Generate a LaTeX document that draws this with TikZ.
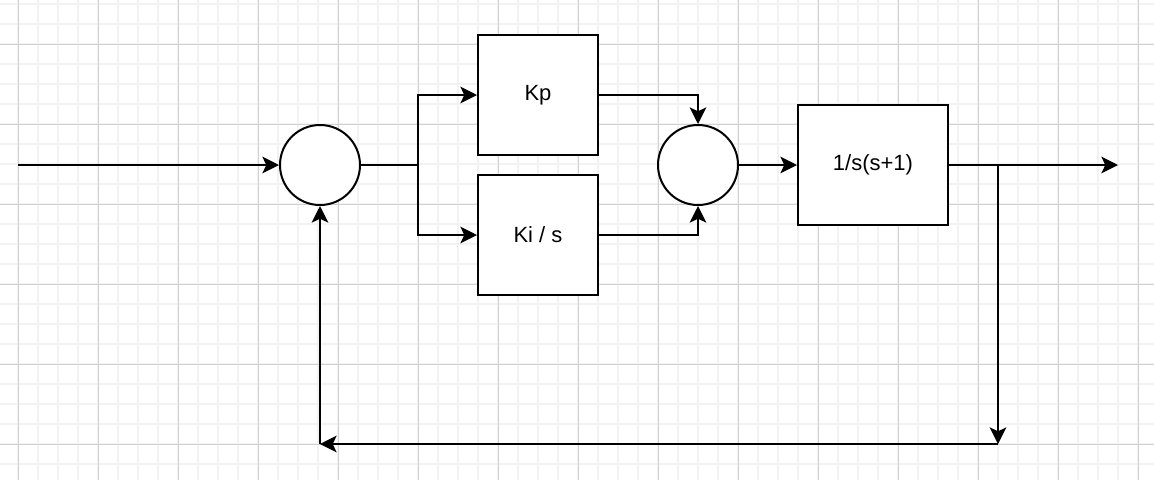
\documentclass[tikz,border=0pt]{standalone}
\usepackage{fontspec}
\setmainfont{Liberation Sans}
\usetikzlibrary{arrows.meta, positioning, calc}

\begin{document}
\begin{tikzpicture}[
    x=0.75pt, y=-0.75pt,
    >={Stealth[length=12.5pt, width=12.5pt, inset=3pt]},
    font=\fontsize{16.5}{19}\selectfont, % drawio-like label size
    every node/.style={align=center},
    block/.style={draw, line width=1.5pt, fill=white, minimum width=90pt, minimum height=90pt},
    sumcirc/.style={draw, circle, line width=1.5pt, fill=white, minimum size=60pt, inner sep=0pt},
    flow/.style={->, line width=1.5pt},
    wire/.style={line width=1.5pt},
    gridminor/.style={line width=1.3pt, color=black!5},
    gridmajor/.style={line width=0.75pt, color=black!18}
]

% =========================================================
% background grid
% =========================================================
\useasboundingbox (0,0) rectangle (1154,480);
\fill[white] (0,0) rectangle (1154,480);
\foreach \x in {18,38,...,1138} \draw[gridminor] (\x,0) -- (\x,480);
\foreach \y in {4,24,...,464} \draw[gridminor] (0,\y) -- (1154,\y);
\foreach \x in {18,98,...,1138} \draw[gridmajor] (\x,0) -- (\x,480);
\foreach \y in {44,124,...,444} \draw[gridmajor] (0,\y) -- (1154,\y);

% =========================================================
% blocks
% =========================================================
\node[sumcirc] (sum1)  at (320,165) {};
\node[block]   (kp)    at (538,95)  {Kp};
\node[block]   (ki)    at (538,235) {Ki / s};
\node[sumcirc] (sum2)  at (698,165) {};
\node[block, minimum width=112.5pt] (plant) at (873,165) {1/s(s+1)};

% branch and end points
\coordinate (in)    at (18,165);
\coordinate (out)   at (1118,165);
\coordinate (split) at (418,165);
\coordinate (tap)   at (998,165);
\coordinate (fbR)   at (998,444);
\coordinate (fbL)   at (320,444);

% =========================================================
% connections
% =========================================================
\draw[flow] (in) -- (sum1.west);
\draw[wire] (sum1.east) -- (split);
\draw[flow] (split) |- (kp.west);
\draw[flow] (split) |- (ki.west);
\draw[flow] (kp.east) -| (sum2.north);
\draw[flow] (ki.east) -| (sum2.south);
\draw[flow] (sum2.east) -- (plant.west);
\draw[flow] (plant.east) -- (out);

% feedback path
\draw[flow] (tap) -- (fbR);
\draw[flow] (fbR) -- (fbL);
\draw[flow] (fbL) -- (sum1.south);

\end{tikzpicture}
\end{document}
